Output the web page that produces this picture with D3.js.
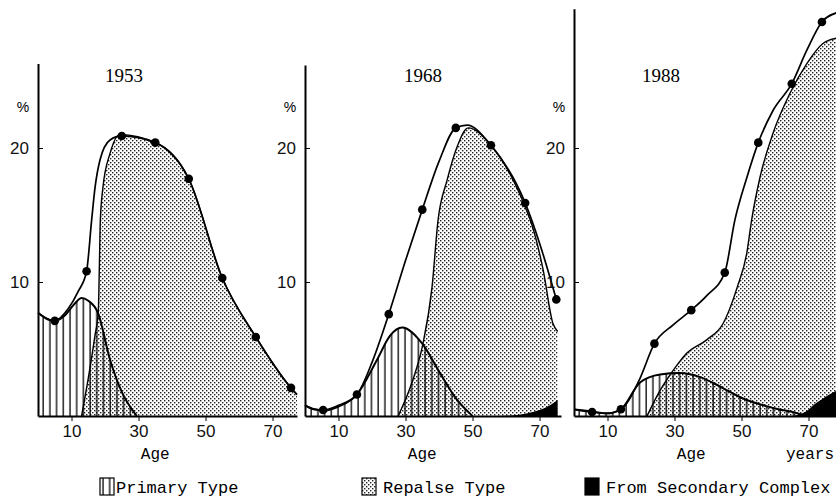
<!DOCTYPE html>
<html>
<head>
<meta charset="utf-8">
<script src="https://cdn.jsdelivr.net/npm/d3@7"></script>
<style>
	body { margin: 0; background: #fff; }
	svg { display: block; }
</style>
</head>
<body>
<div class="chart"></div>
<script>
// values (age in years, share in %)
const years = ['1953', '1968', '1988'];
const xTicks = [10, 30, 50, 70];
const yTicks = [10, 20];
const legendLabels = ['Primary Type', 'Repalse Type', 'From Secondary Complex'];

// 1953
const dotAges1953 = [5, 14.5, 25, 35, 45, 55, 65, 75.5];
const dots1953 = [7.1, 10.8, 20.9, 20.4, 17.7, 10.3, 5.9, 2.1];
const totalAges1953 = [0, 5, 9, 12, 14.5, 16, 17, 18.5, 21.5, 25, 35, 45, 55, 65, 75.5, 77.3];
const total1953 = [7.7, 7.1, 8.0, 9.3, 10.8, 14.6, 17.0, 19.1, 20.6, 20.9, 20.4, 17.7, 10.3, 5.9, 2.1, 1.6];
const primaryAges1953 = [0, 3, 5, 8, 11, 13, 15, 17.9, 21.5, 25, 29.5];
const primary1953 = [7.7, 7.2, 7.1, 7.5, 8.4, 8.8, 8.6, 7.7, 4.2, 1.8, 0];
const relapseAges1953 = [13, 15, 17, 18, 18.3, 18.6, 19.4, 21.5, 24.5, 35, 45, 55, 65, 75.5, 77.3];
const relapse1953 = [0, 2.8, 6.0, 7.8, 11, 14.6, 17.1, 19.6, 21.0, 20.4, 17.7, 10.3, 5.9, 2.1, 1.6];
const secondaryAges1953 = [];
const secondary1953 = [];

// 1968
const dotAges1968 = [5.4, 15.5, 25, 35, 45, 55.5, 65.7, 75];
const dots1968 = [0.45, 1.6, 7.6, 15.4, 21.5, 20.2, 15.9, 8.7];
const totalAges1968 = [0, 2.5, 5.4, 10, 15.5, 20, 25, 30, 35, 40, 45, 48.4, 55.5, 65.7, 70, 75];
const total1968 = [0.8, 0.5, 0.45, 0.8, 1.6, 4.0, 7.6, 11.6, 15.4, 19.0, 21.5, 21.7, 20.2, 15.9, 12.9, 8.7];
const primaryAges1968 = [0, 3, 6, 10, 15.5, 21.5, 25.4, 29, 35, 40.3, 45.4, 50];
const primary1968 = [0.8, 0.5, 0.4, 0.7, 1.6, 4.2, 6.0, 6.6, 5.4, 3.2, 1.2, 0];
const relapseAges1968 = [27.8, 32.2, 35.2, 37.9, 39.7, 42.4, 45.4, 48.7, 55.5, 65.7, 67.8, 71, 74, 75.4];
const relapse1968 = [0, 2.7, 5.4, 9.6, 14.6, 17.6, 20.1, 21.5, 20.2, 15.6, 14.2, 11, 6.9, 6.3];
const secondaryAges1968 = [58, 64, 68, 72, 75.4];
const secondary1968 = [0, 0.1, 0.3, 0.65, 1.2];

// 1988
const dotAges1988 = [5.4, 14, 24, 35, 45, 55, 65, 74];
const dots1988 = [0.3, 0.5, 5.4, 7.9, 10.7, 20.4, 24.8, 29.4];
const totalAges1988 = [0, 5.4, 10, 14, 19.5, 24, 29.6, 35, 39.7, 45, 48, 51.6, 55, 59.4, 65, 69.5, 74, 78.5];
const total1988 = [0.5, 0.3, 0.2, 0.5, 2.7, 5.4, 6.8, 7.9, 9.0, 10.7, 14.6, 17.8, 20.4, 22.8, 24.8, 27.3, 29.4, 30.1];
const primaryAges1988 = [0, 5, 9.9, 14, 19.7, 25.7, 31.6, 37.6, 43.6, 49.6, 59.4, 66.6, 69];
const primary1988 = [0.5, 0.35, 0.2, 0.5, 2.5, 3.1, 3.2, 2.9, 2.2, 1.4, 0.6, 0.2, 0];
const relapseAges1988 = [21.8, 25, 29.6, 33.7, 39.7, 44.5, 48.7, 51.6, 53, 55.5, 59.4, 64.5, 69.5, 74.3, 78.5];
const relapse1988 = [0, 1.6, 3.4, 4.7, 5.7, 6.9, 9.6, 12.2, 14.6, 17.8, 21.1, 24.1, 26.3, 27.8, 28.2];
const secondaryAges1988 = [65, 69, 72.5, 75.5, 78.5];
const secondary1988 = [0, 0.3, 1.0, 1.5, 1.9];

function pairs(ages, vals) {
	return ages.map((a, i) => [a, vals[i]]);
}

const panels = [
	{ year: years[0], left: 38, right: 297, maxAge: 77.3, top: 26.3,
		dots: pairs(dotAges1953, dots1953), total: pairs(totalAges1953, total1953),
		primary: pairs(primaryAges1953, primary1953), relapse: pairs(relapseAges1953, relapse1953),
		secondary: pairs(secondaryAges1953, secondary1953), titleX: 124 },
	{ year: years[1], left: 305, right: 561, maxAge: 76.4, top: 26.2,
		dots: pairs(dotAges1968, dots1968), total: pairs(totalAges1968, total1968),
		primary: pairs(primaryAges1968, primary1968), relapse: pairs(relapseAges1968, relapse1968),
		secondary: pairs(secondaryAges1968, secondary1968), titleX: 423 },
	{ year: years[2], left: 574, right: 837, maxAge: 78.5, top: 30.4,
		dots: pairs(dotAges1988, dots1988), total: pairs(totalAges1988, total1988),
		primary: pairs(primaryAges1988, primary1988), relapse: pairs(relapseAges1988, relapse1988),
		secondary: pairs(secondaryAges1988, secondary1988), titleX: 661 }
];

let w = 836;
let h = 501;

let svg = d3.select('.chart').append('svg').attr('width', w).attr('height', h);

// fill patterns
let defs = svg.append('defs');
let hatch = defs.append('pattern')
	.attr('id', 'hatch')
	.attr('patternUnits', 'userSpaceOnUse')
	.attr('width', 6.7)
	.attr('height', 10);
hatch.append('line')
	.attr('x1', 3).attr('x2', 3).attr('y1', 0).attr('y2', 10)
	.attr('stroke', '#000').attr('stroke-width', 1.3);

let dotted = defs.append('pattern')
	.attr('id', 'dotted')
	.attr('patternUnits', 'userSpaceOnUse')
	.attr('width', 4)
	.attr('height', 4);
dotted.append('rect').attr('width', 4).attr('height', 4).attr('fill', '#fff');
dotted.append('rect').attr('x', 0).attr('y', 0).attr('width', 1.4).attr('height', 1.4).attr('fill', '#222');
dotted.append('rect').attr('x', 2).attr('y', 2).attr('width', 1.4).attr('height', 1.4).attr('fill', '#222');

let yScale = d3.scaleLinear().domain([0, 20]).range([416, 148]);

panels.forEach(function(p) {
	let xScale = d3.scaleLinear().domain([0, p.maxAge]).range([p.left, p.right]);
	let g = svg.append('g');

	let area = d3.area()
		.x((d) => xScale(d[0]))
		.y0(yScale(0))
		.y1((d) => yScale(d[1]))
		.curve(d3.curveMonotoneX);
	let line = d3.line()
		.x((d) => xScale(d[0]))
		.y((d) => yScale(d[1]))
		.curve(d3.curveMonotoneX);

	// relapse
	g.append('path').attr('d', area(p.relapse)).attr('fill', 'url(#dotted)');
	// secondary
	if (p.secondary.length) {
		g.append('path').attr('d', area(p.secondary)).attr('fill', '#000');
	}
	// primary (hatch laid over the dots)
	g.append('path').attr('d', area(p.primary)).attr('fill', 'url(#hatch)');

	g.append('path').attr('d', line(p.relapse)).attr('fill', 'none').attr('stroke', '#000').attr('stroke-width', 1.4);
	g.append('path').attr('d', line(p.primary)).attr('fill', 'none').attr('stroke', '#000').attr('stroke-width', 2);
	g.append('path').attr('d', line(p.total)).attr('fill', 'none').attr('stroke', '#000').attr('stroke-width', 1.7);

	g.selectAll('circle')
		.data(p.dots)
		.enter()
		.append('circle')
		.attr('cx', (d) => xScale(d[0]))
		.attr('cy', (d) => yScale(d[1]))
		.attr('r', 4.3)
		.attr('fill', '#000');

	// x axis
	let xAxis = g.append('g')
		.attr('transform', 'translate(0,' + yScale(0) + ')')
		.call(d3.axisBottom(xScale).tickValues(xTicks).tickSize(5).tickSizeOuter(0).tickPadding(4));
	xAxis.select('.domain').attr('stroke-width', 2);
	xAxis.selectAll('text')
		.attr('font-family', 'Liberation Sans, Arial, sans-serif')
		.attr('font-size', 17)
		.attr('fill', '#111');

	// y axis
	let yAxisScale = d3.scaleLinear().domain([0, p.top]).range([yScale(0), yScale(p.top)]);
	let yAxis = g.append('g')
		.attr('transform', 'translate(' + p.left + ',0)')
		.call(d3.axisLeft(yAxisScale).tickValues(yTicks).tickSize(-5).tickSizeOuter(0).tickPadding(9));
	yAxis.select('.domain').attr('stroke-width', 2);
	yAxis.selectAll('text')
		.attr('font-family', 'Liberation Sans, Arial, sans-serif')
		.attr('font-size', 17)
		.attr('fill', '#111');

	// % label
	g.append('text')
		.attr('x', p.left - 15)
		.attr('y', 112)
		.attr('text-anchor', 'middle')
		.attr('font-family', 'Liberation Sans, Arial, sans-serif')
		.attr('font-size', 14)
		.text('%');

	// year title
	g.append('text')
		.attr('x', p.titleX)
		.attr('y', 82)
		.attr('text-anchor', 'middle')
		.attr('font-family', 'Liberation Serif, Times New Roman, serif')
		.attr('font-size', 19)
		.text(p.year);

	// Age label
	g.append('text')
		.attr('x', xScale(35))
		.attr('y', 459)
		.attr('text-anchor', 'middle')
		.attr('font-family', 'Liberation Mono, DejaVu Sans Mono, monospace')
		.attr('font-size', 16)
		.text('Age');
});

svg.append('text')
	.attr('x', 834)
	.attr('y', 459)
	.attr('text-anchor', 'end')
	.attr('font-family', 'Liberation Mono, DejaVu Sans Mono, monospace')
	.attr('font-size', 16)
	.text('years');

// legend
const legendX = [100, 362, 585];
const legendFills = ['url(#hatch)', 'url(#dotted)', '#000'];
let legend = svg.selectAll('.legend')
	.data(legendLabels)
	.enter()
	.append('g')
	.attr('class', 'legend')
	.attr('transform', (d, i) => 'translate(' + legendX[i] + ',478)');
legend.append('rect')
	.attr('width', 14)
	.attr('height', 17)
	.attr('fill', (d, i) => legendFills[i])
	.attr('stroke', '#000')
	.attr('stroke-width', 1.2);
legend.append('text')
	.attr('x', (d, i) => (i == 0 ? 16 : 21))
	.attr('y', 15)
	.attr('font-family', 'Liberation Mono, DejaVu Sans Mono, monospace')
	.attr('font-size', 17)
	.text((d) => d);
</script>
</body>
</html>
